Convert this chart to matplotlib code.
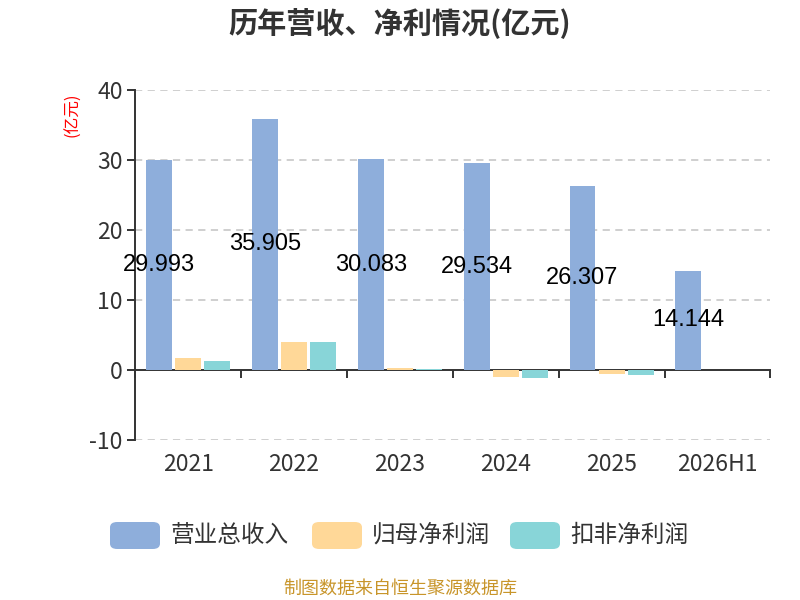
import matplotlib
matplotlib.use('Agg')
import matplotlib.pyplot as plt
from matplotlib.patches import FancyBboxPatch
import numpy as np

plt.rcParams['font.family'] = ['Noto Sans CJK SC', 'DejaVu Sans']
plt.rcParams['axes.unicode_minus'] = False

years = ["2021", "2022", "2023", "2024", "2025", "2026H1"]
revenue = [29.993, 35.905, 30.083, 29.534, 26.307, 14.144]
net_profit = [1.76, 4.05, 0.33, -1.05, -0.52, 0.05]
deducted_profit = [1.29, 4.05, 0.14, -1.19, -0.76, -0.04]
series_names = ["营业总收入", "归母净利润", "扣非净利润"]
colors = ["#8eaedb", "#ffd898", "#88d5d8"]

fig = plt.figure(figsize=(8, 6), dpi=100)
ax = fig.add_axes([0.169, 0.2667, 0.794, 0.5833])

x = np.arange(len(years))
w = 0.245
off = 0.275
ax.bar(x - off, revenue, w, color=colors[0], zorder=3)
ax.bar(x, net_profit, w, color=colors[1], zorder=3)
ax.bar(x + off, deducted_profit, w, color=colors[2], zorder=3)

for xi, v in zip(x, revenue):
    ax.text(xi - off, v / 2, "%.3f" % v, ha='center', va='center',
            fontsize=17, color='black', zorder=5, family='Liberation Sans')

ax.set_xlim(-0.5, len(years) - 0.5)
ax.set_ylim(-10, 40)
ax.set_yticks([-10, 0, 10, 20, 30, 40])
for yv in [-10, 10, 20, 30, 40]:
    ax.axhline(yv, color='#cccccc', ls=(0, (4, 3)), lw=1.3, zorder=1)

for s in ['top', 'right']:
    ax.spines[s].set_visible(False)
ax.spines['bottom'].set_position(('data', 0))
ax.spines['bottom'].set_color('#333333')
ax.spines['left'].set_color('#333333')
ax.spines['bottom'].set_linewidth(1.4)
ax.spines['left'].set_linewidth(1.4)

ax.set_xticks(np.arange(-0.5, len(years), 1.0))
ax.tick_params(axis='x', direction='out', length=6, width=1.4, color='#333333', labelbottom=False)
ax.tick_params(axis='y', direction='out', length=6, width=1.4, color='#333333',
               labelsize=16.5, labelcolor='#333333', pad=3)

for xi, lab in zip(x, years):
    ax.text(xi, -0.07, lab, transform=ax.get_xaxis_transform(), ha='center', va='center',
            fontsize=16.5, color='#333333')

fig.text(0.091, 0.808, "(亿元)", rotation=90, color='red', fontsize=12, ha='center', va='center')
fig.text(0.5, 0.962, "历年营收、净利情况(亿元)", ha='center', va='center',
         fontsize=21, fontweight='bold', color='#333333')

# legend
lx = [110, 312, 510]
for i, name in enumerate(series_names):
    px = lx[i] / 800.0
    patch = FancyBboxPatch((px, 1 - 549 / 600.0), 50 / 800.0, 27 / 600.0,
                           boxstyle="round,pad=0,rounding_size=0.009",
                           transform=fig.transFigure, facecolor=colors[i], edgecolor='none')
    fig.patches.append(patch)
    fig.text(px + 60 / 800.0, 1 - 535 / 600.0, name, ha='left', va='center',
             fontsize=17, color='#333333')

fig.text(0.5, 1 - 589 / 600.0, "制图数据来自恒生聚源数据库", ha='center', va='center',
         fontsize=13, color='#c8952a')

fig.savefig("out.png", dpi=100)
